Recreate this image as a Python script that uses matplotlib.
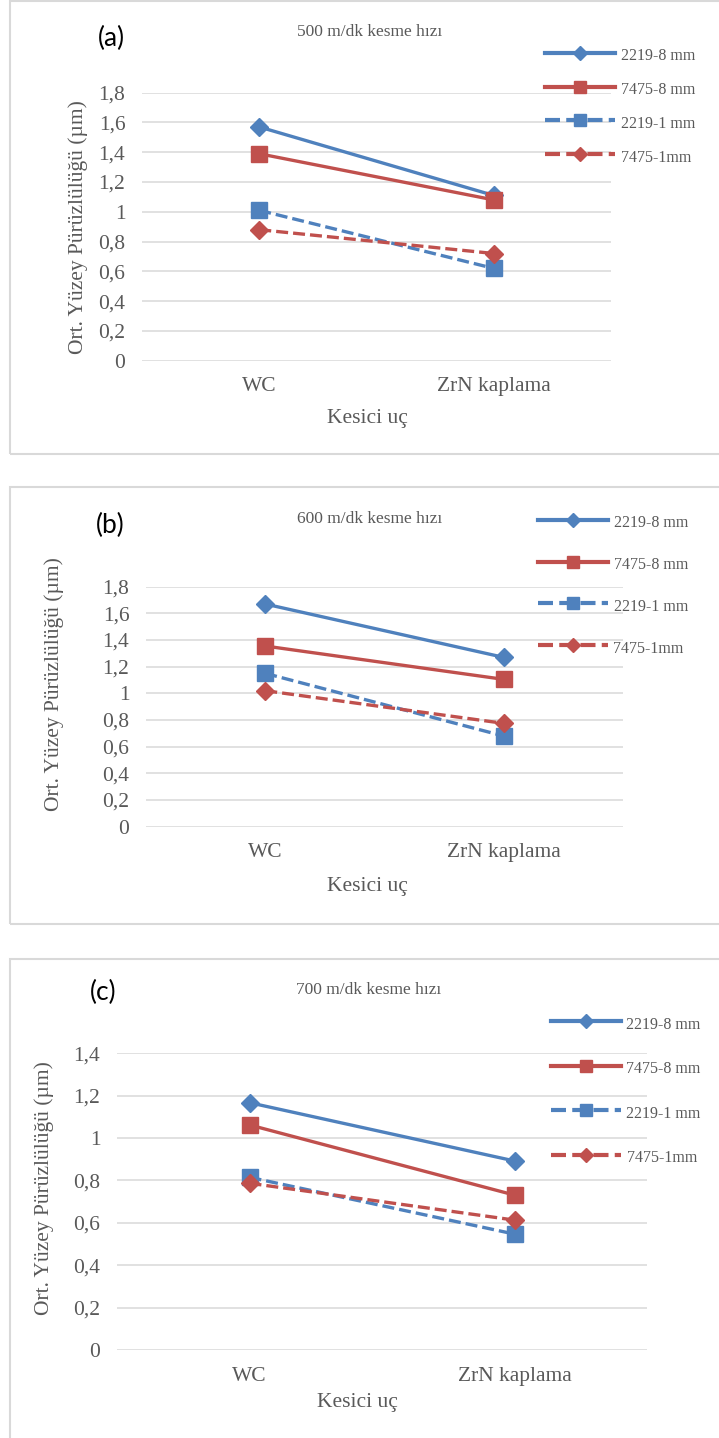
import numpy as np
import matplotlib
matplotlib.use("Agg")
import matplotlib.pyplot as plt
from matplotlib.patches import Rectangle
from matplotlib.ticker import FuncFormatter

# ---- data ----
categories = ["WC", "ZrN kaplama"]
series_names = ["2219-8 mm", "7475-8 mm", "2219-1 mm", "7475-1mm"]

v500_2219_8 = [1.57, 1.11]
v500_7475_8 = [1.39, 1.08]
v500_2219_1 = [1.01, 0.62]
v500_7475_1 = [0.88, 0.72]

v600_2219_8 = [1.67, 1.27]
v600_7475_8 = [1.355, 1.105]
v600_2219_1 = [1.15, 0.68]
v600_7475_1 = [1.02, 0.775]

v700_2219_8 = [1.167, 0.892]
v700_7475_8 = [1.062, 0.731]
v700_2219_1 = [0.815, 0.547]
v700_7475_1 = [0.787, 0.613]

titles = ["500 m/dk kesme hızı", "600 m/dk kesme hızı", "700 m/dk kesme hızı"]
letters = ["(a)", "(b)", "(c)"]
ymax = [1.8, 1.8, 1.4]
xlabel = "Kesici uç"
ylabel = "Ort. Yüzey Pürüzlülüğü (µm)"

BLUE = "#4F81BD"
RED = "#C0504D"
GRID = "#D9D9D9"
TXT = "#595959"
SERIF = "Liberation Serif"

W, H = 719, 1438
fig = plt.figure(figsize=(W / 100, H / 100), dpi=100)


def fx(px): return px / W
def fy(py): return 1 - py / H


# pixel layout of each panel
panels = [
    dict(frame=(10, 1, 760, 453.5), ax=(142, 92.7, 611, 360.7), letter=(111, 38), title=(370, 32),
         xl=(367, 418), yl=(78, 227), leg=(545, 57.3, 38.2)),
    dict(frame=(10, 487, 760, 924), ax=(146, 586.7, 623, 826.7), letter=(110, 525), title=(370, 519),
         xl=(367, 887), yl=(54, 684), leg=(537.5, 524.3, 46.2)),
    dict(frame=(10, 958.5, 760, 1500), ax=(117, 1053.3, 647, 1350), letter=(103, 992), title=(369, 990),
         xl=(357, 1402), yl=(44.5, 1188), leg=(550.5, 1025.7, 49.0)),
]

data = [
    [v500_2219_8, v500_7475_8, v500_2219_1, v500_7475_1],
    [v600_2219_8, v600_7475_8, v600_2219_1, v600_7475_1],
    [v700_2219_8, v700_7475_8, v700_2219_1, v700_7475_1],
]

styles = [
    dict(color=BLUE, ls="-", marker="D", ms=9.5),
    dict(color=RED, ls="-", marker="s", ms=11.5),
    dict(color=BLUE, ls=(0, (3.6, 1.5)), marker="s", ms=11.5),
    dict(color=RED, ls=(0, (3.6, 1.5)), marker="D", ms=9.5),
]

comma = FuncFormatter(lambda v, p: f"{v:g}".replace(".", ","))

for i, p in enumerate(panels):
    l, t, r, b = p["frame"]
    fig.patches.append(Rectangle((fx(l), fy(b)), fx(r - l), (b - t) / H, transform=fig.transFigure,
                                 fill=False, ec=GRID, lw=1.5, zorder=0))

    al, at, ar, ab = p["ax"]
    ax = fig.add_axes([fx(al), fy(ab), fx(ar - al), (ab - at) / H])
    x = np.arange(len(categories))
    for vals, st, name in zip(data[i], styles, series_names):
        ax.plot(x, vals, color=st["color"], ls=st["ls"], lw=2.4, marker=st["marker"],
                ms=st["ms"], mfc=st["color"], mec=st["color"], label=name, zorder=3,
                clip_on=False)
    ax.set_xlim(-0.5, 1.5)
    ax.set_ylim(0, ymax[i])
    ax.set_yticks(np.arange(0, ymax[i] + 0.01, 0.2))
    ax.yaxis.set_major_formatter(comma)
    ax.set_xticks(x)
    ax.set_xticklabels(categories)
    ax.grid(axis="y", color=GRID, lw=1.1)
    ax.set_axisbelow(True)
    for s in ax.spines.values():
        s.set_visible(False)
    ax.tick_params(axis="y", length=0, pad=12, labelsize=15.5, labelcolor=TXT)
    ax.tick_params(axis="x", length=0, pad=12, labelsize=15.5, labelcolor=TXT)
    for lab in ax.get_xticklabels() + ax.get_yticklabels():
        lab.set_fontfamily(SERIF)

    lx, ly, lsp = p["leg"]
    fs = 11.5
    fpx = fs * 100 / 72
    hh = 1.5
    leg = ax.legend(loc="upper left", bbox_to_anchor=(fx(lx), fy(ly - hh * fpx / 2)),
                    bbox_transform=fig.transFigure, frameon=False, borderpad=0, borderaxespad=0,
                    handlelength=70 / fpx, handleheight=hh, handletextpad=6 / fpx,
                    labelspacing=(lsp - hh * fpx) / fpx, markerscale=0.7,
                    prop=dict(family=SERIF, size=fs))
    for tx in leg.get_texts():
        tx.set_color(TXT)
    for ln in leg.get_lines():
        ln.set_linewidth(3.0)

    fig.text(fx(p["letter"][0]), fy(p["letter"][1]), letters[i], fontsize=19, family="Lato",
             ha="center", va="center", color="black")
    fig.text(fx(p["title"][0]), fy(p["title"][1]), titles[i], fontsize=12.5, family=SERIF,
             ha="center", va="center", color=TXT)
    fig.text(fx(p["xl"][0]), fy(p["xl"][1]), xlabel, fontsize=15.5, family=SERIF,
             ha="center", va="center", color=TXT)
    fig.text(fx(p["yl"][0]), fy(p["yl"][1]), ylabel, fontsize=15.5, family=SERIF,
             ha="center", va="center", rotation=90, color=TXT)

fig.savefig("out.png", dpi=100)
